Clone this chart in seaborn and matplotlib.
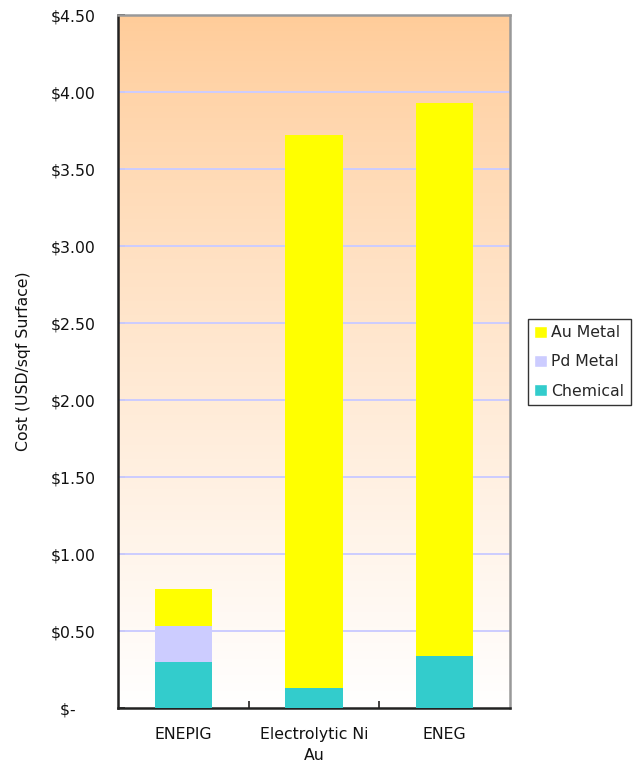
import numpy as np
import pandas as pd
import matplotlib
matplotlib.use("Agg")
import matplotlib.pyplot as plt
from matplotlib.patches import Patch
import seaborn as sns

categories = ["ENEPIG", "Electrolytic Ni\nAu", "ENEG"]
chemical = [0.30, 0.13, 0.34]
pd_metal = [0.23, 0.00, 0.00]
au_metal = [0.24, 3.59, 3.59]
yticks = [0, 0.5, 1.0, 1.5, 2.0, 2.5, 3.0, 3.5, 4.0, 4.5]
ytick_labels = ["$-    ", "$0.50", "$1.00", "$1.50", "$2.00", "$2.50",
                "$3.00", "$3.50", "$4.00", "$4.50"]

sns.set_theme(style="white")
plt.rcParams['font.family'] = ['DejaVu Sans']

df = pd.DataFrame({"cat": categories, "chem": chemical, "pd": pd_metal, "au": au_metal})
df["lvl_chem"] = df["chem"]
df["lvl_pd"] = df["chem"] + df["pd"]
df["lvl_au"] = df["lvl_pd"] + df["au"]

c_au, c_pd, c_chem = "#FFFF00", "#CCCCFF", "#33CCCC"
FS = 11.3

fig = plt.figure(figsize=(6.33, 7.71), dpi=100)
ax = fig.add_axes([0.1864, 0.0817, 0.6193, 0.8988])

# gradient background
grad = np.linspace(0, 1, 256).reshape(-1, 1) ** 0.85
top = np.array([255, 204, 153]) / 255.0
bot = np.array([255, 255, 255]) / 255.0
img = top[None, None, :] * (1 - grad[:, :, None]) + bot[None, None, :] * grad[:, :, None]
ax.imshow(img, extent=[0, 1, 0, 1], transform=ax.transAxes, aspect="auto", zorder=0)

for y in yticks[1:-1]:
    ax.axhline(y, color="#CCCCFF", lw=1.4, zorder=1)

w = 0.44
sns.barplot(data=df, x="cat", y="lvl_au", color=c_au, width=w, ax=ax, zorder=2, saturation=1, linewidth=0)
sns.barplot(data=df, x="cat", y="lvl_pd", color=c_pd, width=w, ax=ax, zorder=3, saturation=1, linewidth=0)
sns.barplot(data=df, x="cat", y="lvl_chem", color=c_chem, width=w, ax=ax, zorder=4, saturation=1, linewidth=0)

ax.set_xlim(-0.5, 2.5)
ax.set_ylim(0, 4.5)
ax.set_yticks(yticks)
ax.set_yticklabels(ytick_labels, fontsize=FS, color="#111111")
ax.set_xticks([0, 1, 2])
ax.set_xticklabels(categories, fontsize=FS, color="#111111", linespacing=1.5)
ax.tick_params(axis="x", length=0, pad=14)
ax.tick_params(axis="y", direction="in", length=5, width=1.2, color="#222222", pad=16, left=True)
# category boundary ticks on x-axis
ax.set_xticks([0.5, 1.5], minor=True)
ax.tick_params(axis="x", which="minor", direction="in", length=5, width=1.2, color="#222222", bottom=True)

ax.set_xlabel("")
ax.set_ylabel("Cost (USD/sqf Surface)", fontsize=FS, color="#111111", labelpad=14)

for s in ["left", "bottom"]:
    ax.spines[s].set_color("#222222")
    ax.spines[s].set_linewidth(1.8)
for s in ["right", "top"]:
    ax.spines[s].set_color("#999999")
    ax.spines[s].set_linewidth(1.8)
    ax.spines[s].set_visible(True)

handles = [Patch(facecolor=c_au, label="Au Metal"),
           Patch(facecolor=c_pd, label="Pd Metal"),
           Patch(facecolor=c_chem, label="Chemical")]
leg = fig.legend(handles=handles, loc="center left", bbox_to_anchor=(0.834, 0.5305),
                 fontsize=FS, frameon=True, fancybox=False, shadow=False,
                 handlelength=0.8, handleheight=0.8, handletextpad=0.3,
                 borderpad=0.4, labelspacing=0.9, borderaxespad=0)
leg.get_frame().set_edgecolor("black")
leg.get_frame().set_linewidth(1.0)

fig.savefig("out.png", dpi=100)
